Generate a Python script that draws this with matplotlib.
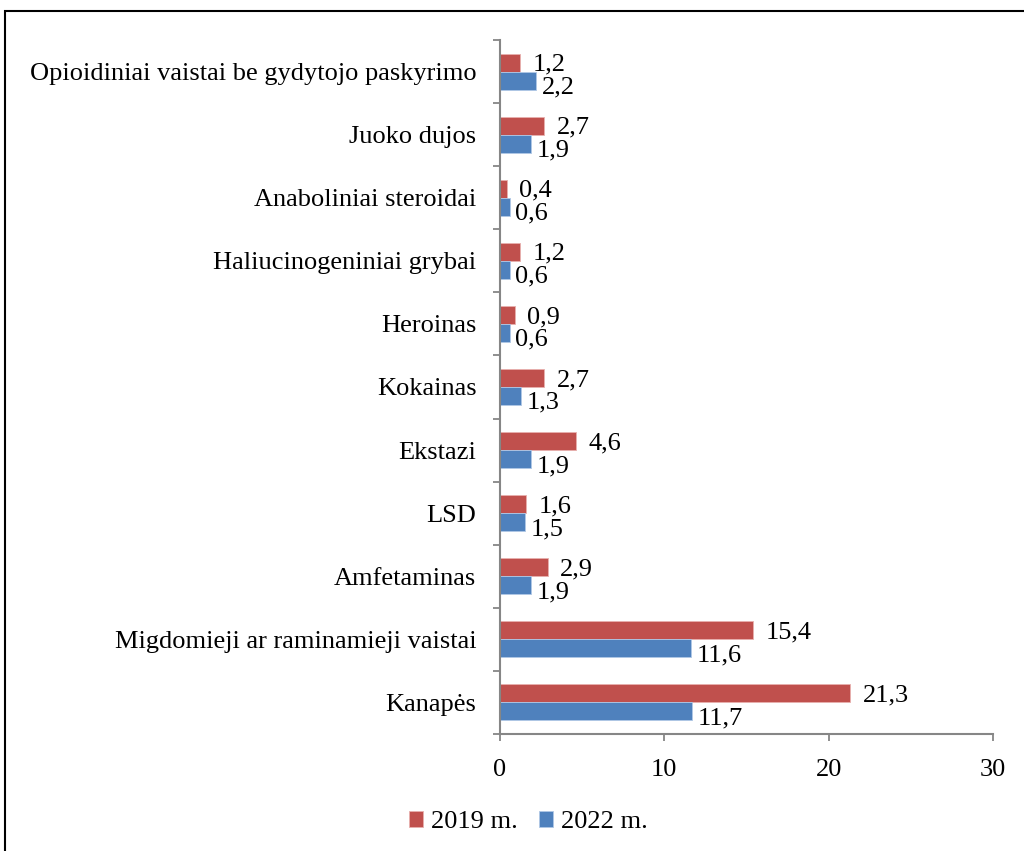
import numpy as np
import matplotlib
matplotlib.use("Agg")
import matplotlib.pyplot as plt
from matplotlib.patches import Rectangle

plt.rcParams["font.family"] = ["Liberation Serif", "DejaVu Serif"]

# categories from bottom to top
categories = ["Kanapės", "Migdomieji ar raminamieji vaistai", "Amfetaminas", "LSD",
              "Ekstazi", "Kokainas", "Heroinas", "Haliucinogeniniai grybai",
              "Anaboliniai steroidai", "Juoko dujos",
              "Opioidiniai vaistai be gydytojo paskyrimo"]
values_2019 = [21.3, 15.4, 2.9, 1.6, 4.6, 2.7, 0.9, 1.2, 0.4, 2.7, 1.2]
values_2022 = [11.7, 11.6, 1.9, 1.5, 1.9, 1.3, 0.6, 0.6, 0.6, 1.9, 2.2]
series_names = ["2019 m.", "2022 m."]
xticks = [0, 10, 20, 30]

RED = "#C0504D"
BLUE = "#4F81BD"
AXIS = "#868686"
FS = 19

fig = plt.figure(figsize=(10.24, 8.51), dpi=100)
ax = fig.add_axes([0.4883, 0.1375, 0.4814, 0.8155])

y = np.arange(len(categories))
h = 0.285
b1 = ax.barh(y + h / 2, values_2019, height=h, color=RED, edgecolor="#E8B0AE",
             linewidth=0.6, label=series_names[0])
b2 = ax.barh(y - h / 2, values_2022, height=h, color=BLUE, edgecolor="#B0C8E6",
             linewidth=0.6, label=series_names[1])

def fmt(v):
    return ("%.1f" % v).replace(".", ",")

for yy, v in zip(y + h / 2, values_2019):
    ax.annotate(fmt(v), (v, yy), xytext=(9, -1.5), textcoords="offset points",
                ha="left", va="center", fontsize=FS)
for yy, v in zip(y - h / 2, values_2022):
    ax.annotate(fmt(v), (v, yy), xytext=(4, -5), textcoords="offset points",
                ha="left", va="center", fontsize=FS)

ax.set_xlim(0, 30)
ax.set_ylim(-0.5, len(categories) - 0.5)
ax.set_xticks(xticks)
ax.set_xticklabels([str(t) for t in xticks], fontsize=FS)
ax.set_yticks(y)
ax.set_yticklabels(categories, fontsize=FS)
ax.set_yticks(np.arange(-0.5, len(categories), 1.0), minor=True)
ax.tick_params(axis="y", which="major", length=0, pad=17)
ax.tick_params(axis="y", which="minor", length=5, width=1.3, color=AXIS, direction="out")
ax.tick_params(axis="x", length=5, width=1.3, color=AXIS, direction="out", pad=13)

for s in ["top", "right"]:
    ax.spines[s].set_visible(False)
for s in ["left", "bottom"]:
    ax.spines[s].set_color(AXIS)
    ax.spines[s].set_linewidth(1.5)

fig.legend(handles=[b1, b2], labels=series_names, loc="center",
           bbox_to_anchor=(0.516, 0.034), ncol=2, frameon=False, fontsize=FS,
           handlelength=0.55, handleheight=0.55, handletextpad=0.3, columnspacing=0.8)

# outer chart frame
fig.patches.append(Rectangle((5 / 1024, -0.1), 1.2, 1 - 11 / 851 + 0.1,
                             transform=fig.transFigure, fill=False,
                             edgecolor="black", linewidth=1.5))

fig.savefig("out.png", dpi=100)
